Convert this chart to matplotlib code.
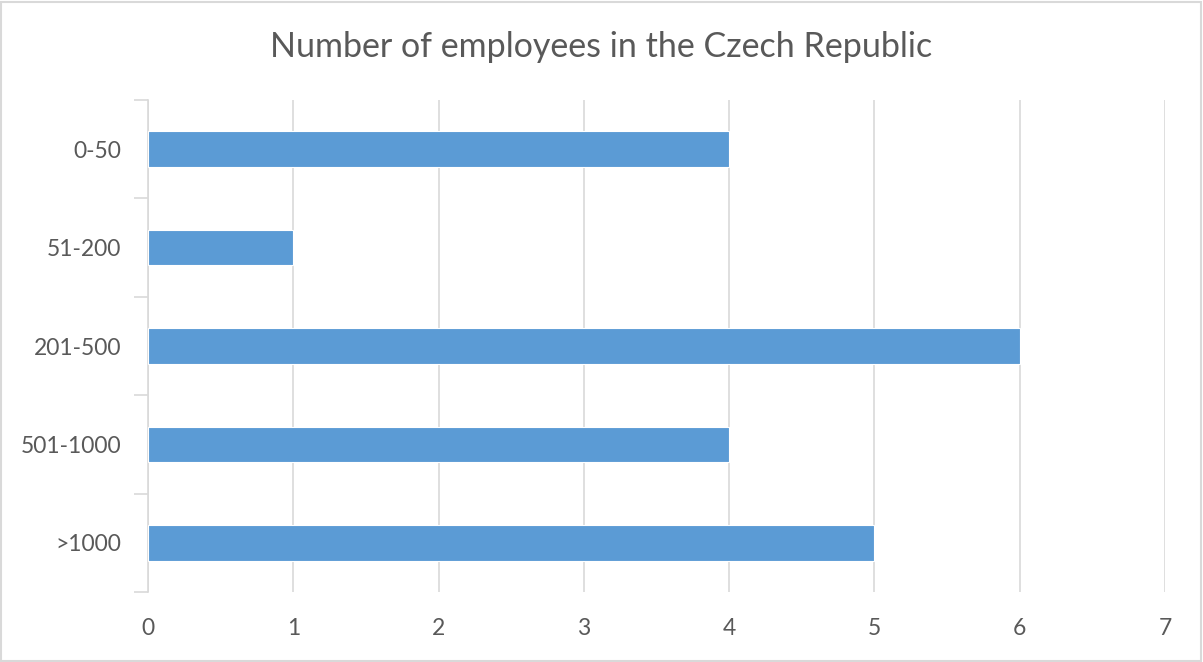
import matplotlib.pyplot as plt
import numpy as np
from matplotlib.patches import Rectangle

plt.rcParams['font.family'] = ['Lato', 'DejaVu Sans']

categories = ['0-50', '51-200', '201-500', '501-1000', '>1000']
values = [4, 1, 6, 4, 5]
title = 'Number of employees in the Czech Republic'

grey_txt = '#595959'
grid_c = '#d9d9d9'
bar_c = '#5b9bd5'

fig = plt.figure(figsize=(12.03, 6.62), dpi=100)
ax = fig.add_axes([148/1203, 70/662, 1017/1203, 492/662])

y = np.arange(len(categories))
ax.barh(y, values, height=0.36, color=bar_c, edgecolor='white', linewidth=0.8, zorder=3)

ax.set_xlim(0, 7)
ax.set_ylim(len(categories) - 0.5, -0.5)
ax.set_xticks(range(8))
ax.set_yticks(y)
ax.set_yticklabels(categories)
# tick marks at category boundaries only
ax.set_yticks(np.arange(-0.5, len(categories)), minor=True)
ax.tick_params(axis='y', which='major', length=0, pad=19, labelsize=16.5, labelcolor=grey_txt)
ax.tick_params(axis='y', which='minor', length=10, width=1.2, color=grid_c)
ax.tick_params(axis='x', length=0, pad=19, labelsize=16.5, labelcolor=grey_txt)

ax.grid(axis='x', color=grid_c, linewidth=1.2, zorder=0)
for s in ['top', 'right', 'bottom']:
    ax.spines[s].set_visible(False)
ax.spines['left'].set_color(grid_c)
ax.spines['left'].set_linewidth(1.2)

fig.text(0.5, 1 - 47/662, title, ha='center', va='center', fontsize=24.5, color=grey_txt)

# chart border
fig.patches.append(Rectangle((0.001, 0.002), 0.997, 0.995, transform=fig.transFigure,
                             fill=False, edgecolor=grid_c, linewidth=1.5))

fig.savefig('out.png', dpi=100)
